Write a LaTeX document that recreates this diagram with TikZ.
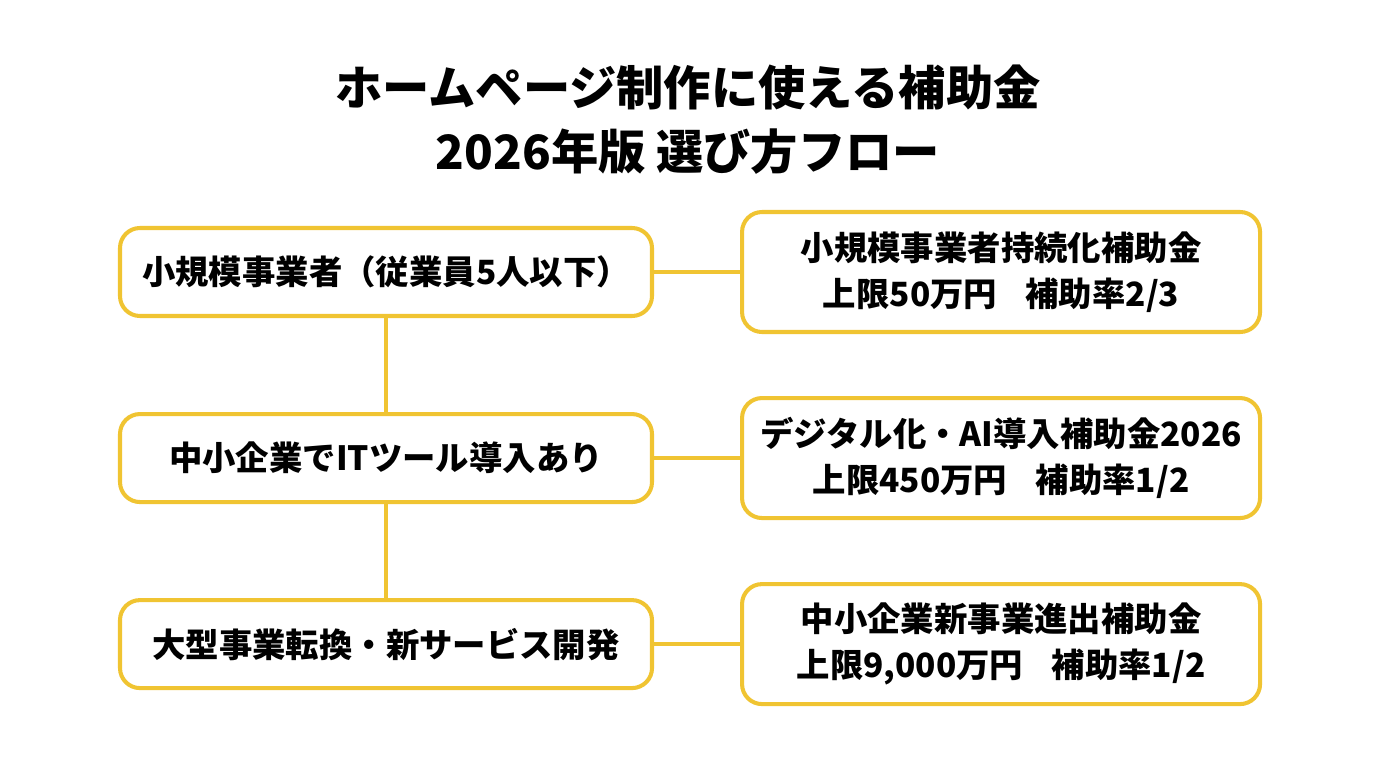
\documentclass[tikz,border=0pt]{standalone}
\usepackage{fontspec}
\setmainfont{Noto Sans CJK JP}
\usepackage{xcolor}
\usetikzlibrary{positioning}
\definecolor{frameyellow}{RGB}{240,196,50}

\begin{document}
\begin{tikzpicture}[node distance=1.88cm and 1.72cm,
    every node/.style={font=\bfseries\fontsize{19}{26.5}\selectfont},
    leftbox/.style={draw=frameyellow, line width=2.3pt, rounded corners=0.4cm, fill=white, minimum width=10.64cm, minimum height=1.76cm},
    rightbox/.style={draw=frameyellow, line width=2.3pt, rounded corners=0.4cm, fill=white, minimum width=10.36cm, minimum height=2.4cm, align=center},
    link/.style={draw=frameyellow, line width=2.3pt}]
    \useasboundingbox[fill=white] (0,0) rectangle (27.52,-15.36);
    \node[align=center, font=\bfseries\fontsize{26.9}{36.3}\selectfont] (title) at (13.76,-2.4) {ホームページ制作に使える補助金\\2026年版 選び方フロー};
    % left column: conditions
    \node[leftbox] (small) at (7.72,-5.44) {小規模事業者（従業員5人以下）};
    \node[leftbox, below=of small] (ittool) {中小企業でITツール導入あり};
    \node[leftbox, below=of ittool] (shift) {大型事業転換・新サービス開発};
    % right column: subsidies
    \node[rightbox, right=of small] (jizoku) {小規模事業者持続化補助金\\上限50万円\hspace{0.85em}補助率2/3};
    \node[rightbox, right=of ittool] (digital) {デジタル化・AI導入補助金2026\\上限450万円\hspace{0.85em}補助率1/2};
    \node[rightbox, right=of shift] (shinjigyo) {中小企業新事業進出補助金\\上限9,000万円\hspace{0.85em}補助率1/2};
    \draw[link] (small) -- (ittool);
    \draw[link] (ittool) -- (shift);
    \draw[link] (small) -- (jizoku);
    \draw[link] (ittool) -- (digital);
    \draw[link] (shift) -- (shinjigyo);
\end{tikzpicture}
\end{document}
